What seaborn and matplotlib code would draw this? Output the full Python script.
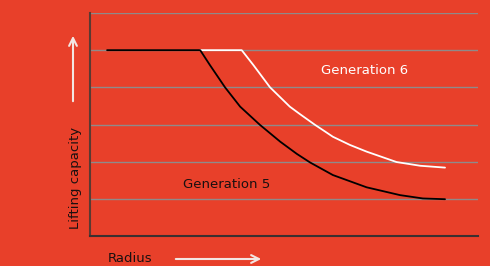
import matplotlib
matplotlib.use("Agg")
import matplotlib.pyplot as plt
import seaborn as sns
import pandas as pd

# curve points (radius, lifting capacity)
gen5_radius = [0.44, 2.84, 3.09, 3.48, 3.87, 4.38, 4.90, 5.33, 5.67, 6.26,
               7.13, 7.99, 8.58, 9.15]
gen5_capacity = [5.0, 5.0, 4.60, 4.00, 3.48, 2.99, 2.54, 2.21, 1.98, 1.64,
                 1.31, 1.10, 1.01, 0.99]

gen6_radius = [2.84, 3.91, 4.21, 4.64, 5.15, 5.41, 5.80, 6.06, 6.26, 6.70,
               7.13, 7.90, 8.51, 9.15]
gen6_capacity = [5.0, 5.0, 4.60, 4.00, 3.48, 3.28, 2.99, 2.81, 2.67, 2.45,
                 2.27, 1.99, 1.89, 1.84]

grid_levels = [1, 2, 3, 4, 5, 6]

bg = "#e8402a"

df = pd.concat([
    pd.DataFrame({"radius": gen6_radius, "capacity": gen6_capacity, "gen": "Generation 6"}),
    pd.DataFrame({"radius": gen5_radius, "capacity": gen5_capacity, "gen": "Generation 5"}),
])

sns.set_style("white")
fig = plt.figure(figsize=(4.9, 2.66), dpi=100, facecolor=bg)
ax = fig.add_axes([90 / 490, 1 - 236 / 266, 388 / 490, 223 / 266])
ax.set_facecolor(bg)

for lvl in grid_levels:
    ax.axhline(lvl, color="#8f8a8a", lw=1.0, zorder=1)

sns.lineplot(data=df, x="radius", y="capacity", hue="gen", sort=False,
             palette={"Generation 5": "black", "Generation 6": "white"},
             linewidth=1.3, legend=False, ax=ax, zorder=3)

ax.set_xlim(0, 10)
ax.set_ylim(0, 6)
ax.set_xticks([])
ax.set_yticks([])
ax.set_xlabel("")
ax.set_ylabel("")
for side in ["top", "right"]:
    ax.spines[side].set_visible(False)
ax.spines["left"].set_color("#5a3a32")
ax.spines["bottom"].set_color("#3a3030")
ax.spines["left"].set_linewidth(1.5)
ax.spines["bottom"].set_linewidth(1.5)

ax.text(7.08, 4.45, "Generation 6", color="white", fontsize=9.5, ha="center", va="center")
ax.text(3.52, 1.38, "Generation 5", color="#1a1010", fontsize=9.5, ha="center", va="center")

fig.text(75 / 490, 1 - 178 / 266, "Lifting capacity", rotation=90, fontsize=9.5,
         color="#1a1010", ha="center", va="center")
fig.text(130 / 490, 1 - 259 / 266, "Radius", fontsize=9.5, color="#1a1010",
         ha="center", va="center")

arrow_kw = dict(arrowstyle="->", color="#f3e6e2", lw=1.5, mutation_scale=14)
fig.add_artist(matplotlib.patches.FancyArrowPatch(
    (73 / 490, 1 - 104 / 266), (73 / 490, 1 - 33 / 266),
    transform=fig.transFigure, **arrow_kw))
fig.add_artist(matplotlib.patches.FancyArrowPatch(
    (173 / 490, 1 - 259 / 266), (264 / 490, 1 - 259 / 266),
    transform=fig.transFigure, **arrow_kw))

plt.savefig("out.png", dpi=100, facecolor=bg)
